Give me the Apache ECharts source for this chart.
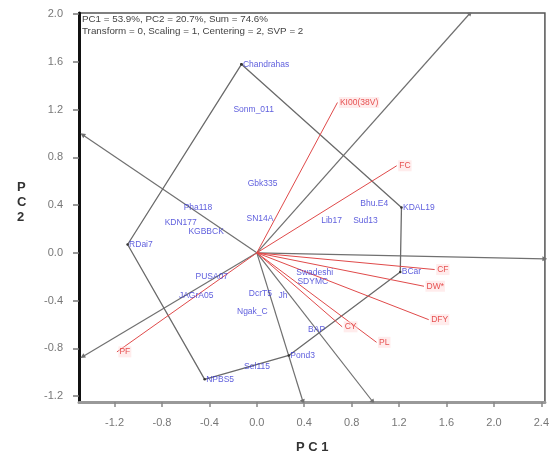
<!DOCTYPE html>
<html>
<head>
<meta charset="utf-8">
<script src="https://cdn.jsdelivr.net/npm/echarts@6/dist/echarts.min.js"></script>
<style>
html,body{margin:0;padding:0;background:#fff;}
#c{width:552px;height:460px;}
</style>
</head>
<body>
<div id="c"></div>
<script>
// ---- data ----
const xTicks = [-1.2, -0.8, -0.4, 0.0, 0.4, 0.8, 1.2, 1.6, 2.0, 2.4];
const yTicks = [-1.2, -0.8, -0.4, 0.0, 0.4, 0.8, 1.2, 1.6, 2.0];

// genotypes: name, PC1, PC2
const genoNames = ["Chandrahas","Sonm_011","Gbk335","SN14A","Pha118","KDN177","KGBBCK","RDai7","Bhu.E4","KDAL19","Lib17","Sud13","BCar","Swadeshi","SDYMC","PUSA07","JAGrA05","DcrT5","Jh","Ngak_C","BAP","Pond3","Sel115","NPBS5"];
const genoPC1 = [-0.13,-0.21,-0.09,-0.10,-0.63,-0.79,-0.59,-1.09,0.86,1.22,0.53,0.80,1.21,0.32,0.33,-0.53,-0.67,-0.08,0.17,-0.18,0.42,0.27,-0.12,-0.44];
const genoPC2 = [1.58,1.20,0.58,0.29,0.38,0.25,0.18,0.07,0.41,0.38,0.27,0.27,-0.16,-0.17,-0.24,-0.20,-0.36,-0.34,-0.36,-0.49,-0.64,-0.86,-0.95,-1.06];

// polygon (vertex genotypes, in order)
const hullNames = ["Chandrahas","KDAL19","BCar","Pond3","NPBS5","RDai7"];

// sector rays from origin (end points)
const rayPC1 = [1.80, 2.43, 0.98, 0.39, -1.47, -1.47];
const rayPC2 = [2.01, -0.05, -1.25, -1.25, -0.87, 0.99];

// traits (red vectors)
const traitNames = ["KI00(38V)","FC","CF","DW*","DFY","CY","PL","PF"];
const traitPC1 = [0.68, 1.18, 1.50, 1.41, 1.45, 0.72, 1.01, -1.18];
const traitPC2 = [1.26, 0.73, -0.14, -0.28, -0.56, -0.62, -0.75, -0.83];

const infoLine1 = "PC1 = 53.9%, PC2 = 20.7%, Sum = 74.6%";
const infoLine2 = "Transform = 0, Scaling = 1, Centering = 2, SVP = 2";

// ---- build ----
const genoData = genoNames.map((n, i) => [genoPC1[i], genoPC2[i], n]);
const hullData = hullNames.map(n => { const i = genoNames.indexOf(n); return [genoPC1[i], genoPC2[i]]; });
hullData.push(hullData[0]);
const rayData = rayPC1.map((x, i) => ({ coords: [[0, 0], [x, rayPC2[i]]] }));
const traitLines = traitPC1.map((x, i) => ({ coords: [[0, 0], [x, traitPC2[i]]] }));
const traitData = traitNames.map((n, i) => [traitPC1[i], traitPC2[i], n]);

const chart = echarts.init(document.getElementById('c'), null, { renderer: 'canvas' });
const lblFont = 'Liberation Sans, Arial, sans-serif';
chart.setOption({
  animation: false,
  backgroundColor: '#fff',
  grid: { left: 79, right: 5, top: 13, bottom: 58, show: true, borderColor: '#555', borderWidth: 1.5 },
  xAxis: {
    type: 'value', min: -1.5, max: 2.43,
    axisLine: { show: true, onZero: false, lineStyle: { color: '#999', width: 3 } },
    axisTick: { show: true, customValues: xTicks, length: 5, lineStyle: { color: '#888', width: 1.5 } },
    axisLabel: { customValues: xTicks, formatter: v => v.toFixed(1), color: '#777', fontSize: 11, margin: 15, fontFamily: lblFont },
    splitLine: { show: false }
  },
  yAxis: {
    type: 'value', min: -1.25, max: 2.01,
    axisLine: { show: true, onZero: false, lineStyle: { color: '#111', width: 3 } },
    axisTick: { show: true, customValues: yTicks, length: 6, lineStyle: { color: '#777', width: 1.5 } },
    axisLabel: { customValues: yTicks, formatter: v => v.toFixed(1), color: '#777', fontSize: 11, margin: 16, fontFamily: lblFont },
    splitLine: { show: false }
  },
  graphic: [
    { type: 'text', left: 82, top: 14, style: { text: infoLine1, fontSize: 9.8, fill: '#444', fontFamily: lblFont } },
    { type: 'text', left: 82, top: 26, style: { text: infoLine2, fontSize: 9.8, fill: '#444', fontFamily: lblFont } },
    { type: 'text', left: 296, top: 441, style: { text: 'P C 1', fontSize: 13, fontWeight: 'bold', fill: '#333', fontFamily: lblFont } },
    { type: 'text', left: 17, top: 180, style: { text: 'P\nC\n2', fontSize: 13, lineHeight: 15, fontWeight: 'bold', fill: '#333', fontFamily: lblFont, align: 'left' } }
  ],
  series: [
    {
      type: 'line', data: hullData, z: 2, silent: true,
      symbol: 'circle', symbolSize: 2.5, itemStyle: { color: '#333' },
      lineStyle: { color: '#6a6a6a', width: 1.3 }
    },
    {
      type: 'lines', coordinateSystem: 'cartesian2d', data: rayData, z: 2, silent: true,
      symbol: ['none', 'triangle'], symbolSize: 5,
      lineStyle: { color: '#707070', width: 1.2, opacity: 1 }
    },
    {
      type: 'lines', coordinateSystem: 'cartesian2d', data: traitLines, z: 3, silent: true,
      symbol: ['none', 'none'],
      lineStyle: { color: '#e04a4a', width: 1, opacity: 1 }
    },
    {
      type: 'scatter', data: traitData, symbolSize: 1, z: 4, silent: true,
      itemStyle: { color: 'rgba(0,0,0,0)' },
      label: { show: true, position: 'right', distance: 1, formatter: p => p.data[2], color: '#e02828', fontSize: 8.5, fontFamily: lblFont, backgroundColor: 'rgba(255,215,215,0.6)', padding: [1, 1] }
    },
    {
      type: 'scatter', data: genoData, symbolSize: 1, z: 5, silent: true,
      itemStyle: { color: 'rgba(0,0,0,0)' },
      label: { show: true, position: 'right', distance: 1, formatter: p => p.data[2], color: '#3434d4', fontSize: 8.5, fontFamily: lblFont }
    }
  ]
});
</script>
</body>
</html>
